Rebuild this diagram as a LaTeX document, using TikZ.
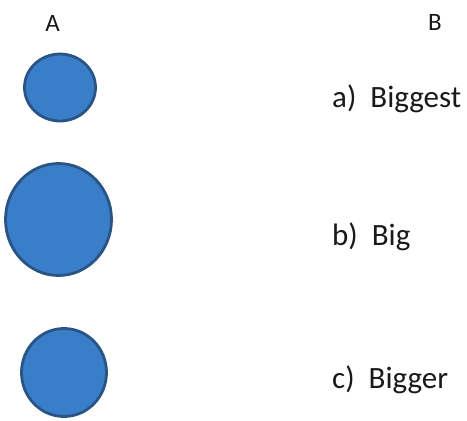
\documentclass[tikz,border=0pt]{standalone}
\usepackage{fontspec}
\setmainfont{Carlito}
\usetikzlibrary{shapes.geometric}
\definecolor{ballfill}{RGB}{58,125,200}
\definecolor{balledge}{RGB}{40,84,134}
\tikzset{
  ball/.style={ellipse, draw=balledge, fill=ballfill, line width=2.8pt, inner sep=0pt},
  head/.style={anchor=base, font=\fontsize{25}{28}\selectfont, text=black!90, inner sep=0pt},
  choice/.style={anchor=base west, font=\fontsize{31}{34}\selectfont, text=black!90, inner sep=0pt}
}
\begin{document}
\begin{tikzpicture}[x=1pt,y=-1pt]
\useasboundingbox (0,0) rectangle (467,421);
\node[head] (hA) at (52.5,31) {A};
\node[head] (hB) at (435,30) {B};
\node[ball, minimum width=71pt, minimum height=67pt] (c1) at (60,87.5) {};
\node[ball, minimum width=106pt, minimum height=112pt] (c2) at (58.5,219.5) {};
\node[ball, minimum width=85pt, minimum height=88pt] (c3) at (64,372.5) {};
\node[choice] (ta) at (332,107) {a)\ \ Biggest};
\node[choice] (tb) at (332,245) {b)\ \ Big};
\node[choice] (tc) at (332,388) {c)\ \ Bigger};
\end{tikzpicture}
\end{document}
